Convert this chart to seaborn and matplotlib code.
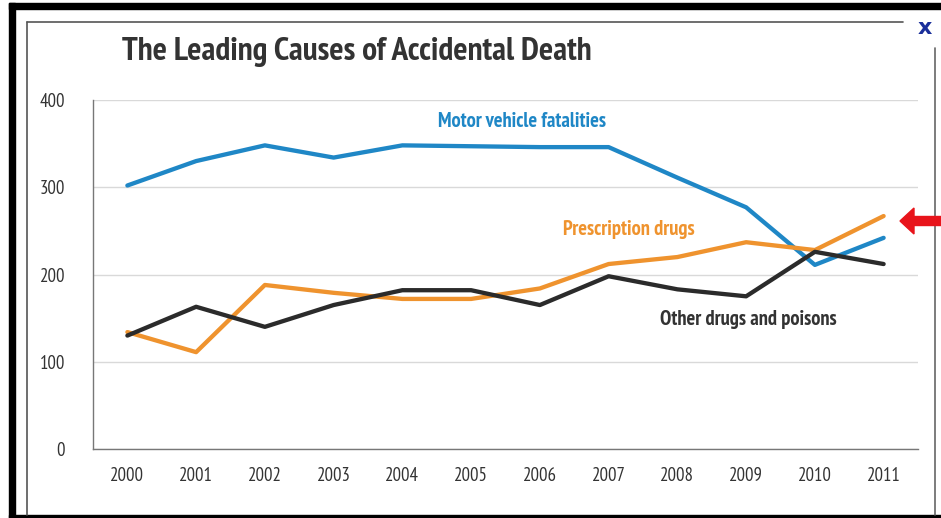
import matplotlib
matplotlib.use("Agg")
import matplotlib.pyplot as plt
from matplotlib.patches import Rectangle, FancyArrow
from matplotlib.lines import Line2D
from matplotlib.ticker import FixedLocator
import pandas as pd
import seaborn as sns

years = ["2000", "2001", "2002", "2003", "2004", "2005",
         "2006", "2007", "2008", "2009", "2010", "2011"]
motor_vehicle = [302, 330, 348, 334, 348, 347, 346, 346, 311, 277, 211, 242]
prescription = [134, 111, 188, 179, 172, 172, 184, 212, 220, 237, 228, 267]
other_drugs = [130, 163, 140, 165, 182, 182, 165, 198, 183, 175, 226, 212]
series_names = ["Motor vehicle fatalities", "Prescription drugs", "Other drugs and poisons"]
y_ticks = [0, 100, 200, 300, 400]

colors = {
    "Motor vehicle fatalities": "#1f87c6",
    "Prescription drugs": "#ef932e",
    "Other drugs and poisons": "#2b2b2b",
}

df = pd.DataFrame({
    "year": years * 3,
    "deaths": motor_vehicle + prescription + other_drugs,
    "cause": [n for n in series_names for _ in years],
})
df["pos"] = [i for _ in series_names for i in range(len(years))]

sns.set_style("white")
plt.rcParams["font.family"] = ["PT Sans Narrow", "DejaVu Sans"]

fig = plt.figure(figsize=(9.41, 5.18), dpi=100)
W, H = 941, 518

def fx(px):
    return px / W

def fy(py):
    return 1 - py / H

# outer black frame and inner grey panel border
fig.patches.append(Rectangle((fx(9), fy(9)), fx(941 - 9), 6 / H, transform=fig.transFigure,
                             color="black", zorder=0))
fig.patches.append(Rectangle((fx(9), 0), 6 / W, fy(3), transform=fig.transFigure,
                             color="black", zorder=0))
fig.patches.append(Rectangle((fx(9), 0), fx(941 - 9), 3 / H, transform=fig.transFigure,
                             color="black", zorder=0))
fig.lines.append(Line2D([fx(27), fx(27)], [fy(22), fy(515)], transform=fig.transFigure,
                        color="#555555", lw=1.2))
fig.lines.append(Line2D([fx(27), fx(903)], [fy(22), fy(22)], transform=fig.transFigure,
                        color="#555555", lw=1.2))
fig.lines.append(Line2D([fx(935), fx(935)], [fy(48), fy(515)], transform=fig.transFigure,
                        color="#666666", lw=1.2))
fig.text(fx(925), fy(28), "x", color="#1a2f9a", fontsize=16, fontweight="bold",
         ha="center", va="center", family=["DejaVu Sans"])

# red arrow pointing at the prescription drugs line
fig.patches.append(FancyArrow(fx(941), fy(221), -(941 - 900) / W, 0, width=9 / H,
                              head_width=26 / H, head_length=14 / W,
                              length_includes_head=True, transform=fig.transFigure,
                              color="#e8141b", zorder=5))

ax = fig.add_axes([fx(93), fy(449), fx(918 - 93), (449 - 100) / H])
sns.lineplot(data=df, x="pos", y="deaths", hue="cause", palette=colors,
             linewidth=3.1, legend=False, ax=ax, estimator=None, sort=False)

ax.set_xlim(-0.5, len(years) - 0.5)
ax.set_ylim(0, 400)
ax.set_xlabel("")
ax.set_ylabel("")

ax.xaxis.set_major_locator(FixedLocator(range(len(years))))
ax.set_xticklabels(years)
ax.xaxis.set_minor_locator(FixedLocator([i - 0.5 for i in range(len(years) + 1)]))
ax.tick_params(axis="x", which="major", length=0, pad=13, labelsize=13.5, labelcolor="#333333")
ax.tick_params(axis="x", which="minor", length=5, width=1, color="#777777", direction="out")
ax.set_yticks(y_ticks)
ax.tick_params(axis="y", length=6, width=1, color="#777777", pad=14, labelsize=13.5,
               labelcolor="#333333")

ax.grid(axis="y", color="#d9d9d9", lw=1)
ax.set_axisbelow(True)
for side in ["top", "right"]:
    ax.spines[side].set_visible(False)
for side in ["left", "bottom"]:
    ax.spines[side].set_color("#777777")
    ax.spines[side].set_linewidth(1)

# direct series labels
ax.text(5.74, 375, "Motor vehicle fatalities", color=colors["Motor vehicle fatalities"],
        fontsize=14.8, fontweight="bold", ha="center", va="center")
ax.text(7.3, 252, "Prescription drugs", color=colors["Prescription drugs"],
        fontsize=14.8, fontweight="bold", ha="center", va="center")
ax.text(9.03, 148, "Other drugs and poisons", color="#333333",
        fontsize=14.8, fontweight="bold", ha="center", va="center")

fig.text(fx(122), fy(52), "The Leading Causes of Accidental Death", color="#333333",
         fontsize=24, fontweight="bold", ha="left", va="center")

fig.savefig("out.png", dpi=100)
